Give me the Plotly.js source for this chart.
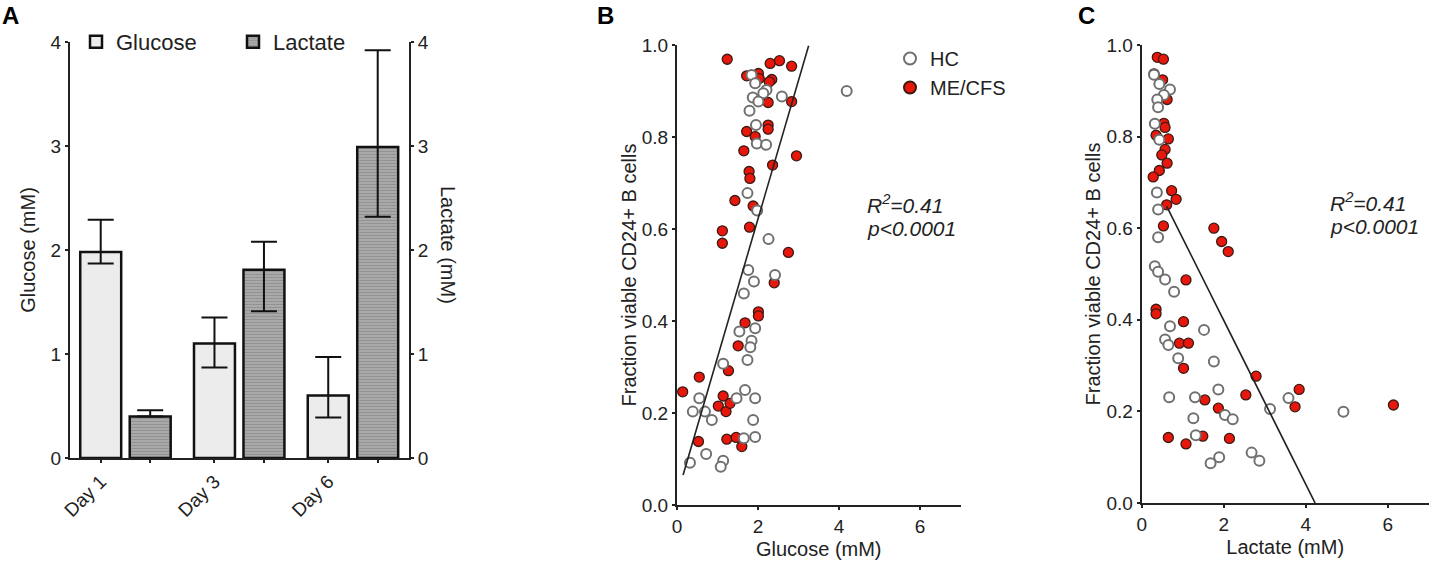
<!DOCTYPE html>
<html>
<head>
<meta charset="utf-8">
<script src="https://cdn.plot.ly/plotly-3.0.1.min.js"></script>
<style>
  html, body { margin: 0; padding: 0; background: #fff; }
  #fig { width: 1436px; height: 574px; }
</style>
</head>
<body>
<div id="fig"></div>
<script>
(function () {
  "use strict";

  // Panel A: supernatant glucose / lactate per day (mean, upper and lower error)
  var days = ["Day 1", "Day 3", "Day 6"];
  var glucoseMean = [1.98, 1.10, 0.60];
  var glucoseErrUp = [0.31, 0.25, 0.37];
  var glucoseErrDown = [0.11, 0.23, 0.21];
  var lactateMean = [0.40, 1.81, 2.99];
  var lactateErrUp = [0.06, 0.27, 0.93];
  var lactateErrDown = [0.0, 0.40, 0.67];

  // Panel B: glucose (mM) vs fraction viable CD24+ B cells
  var hcGluX = [1.84, 1.93, 2.21, 2.13, 1.87, 2.01, 1.79, 2.59, 4.19, 1.95, 1.97, 2.20, 1.74, 1.98, 2.26, 1.76, 2.42, 1.90, 1.65, 1.54, 1.93, 1.84, 1.81, 1.74, 1.14, 1.68, 1.47, 1.93, 0.55, 0.39, 0.69, 0.86, 1.88, 1.65, 1.93, 0.72, 0.32, 1.14, 1.08];
  var hcGluY = [0.935, 0.917, 0.902, 0.895, 0.886, 0.877, 0.857, 0.888, 0.900, 0.826, 0.786, 0.783, 0.678, 0.640, 0.578, 0.511, 0.500, 0.486, 0.460, 0.377, 0.384, 0.357, 0.343, 0.315, 0.307, 0.250, 0.232, 0.232, 0.232, 0.203, 0.203, 0.185, 0.185, 0.145, 0.148, 0.111, 0.092, 0.096, 0.083];
  var meGluX = [1.24, 2.30, 2.53, 2.83, 1.72, 2.01, 2.03, 2.34, 2.28, 2.83, 2.25, 2.25, 2.25, 1.72, 1.93, 1.65, 2.95, 2.36, 1.78, 1.80, 1.43, 1.88, 1.12, 1.12, 1.79, 2.75, 2.40, 2.01, 2.01, 1.68, 1.51, 1.27, 0.55, 0.14, 1.14, 1.02, 1.21, 1.31, 0.53, 1.23, 1.46, 1.60];
  var meGluY = [0.969, 0.960, 0.966, 0.954, 0.933, 0.938, 0.927, 0.925, 0.920, 0.877, 0.875, 0.826, 0.817, 0.812, 0.801, 0.770, 0.759, 0.739, 0.725, 0.710, 0.662, 0.650, 0.596, 0.569, 0.604, 0.549, 0.483, 0.420, 0.411, 0.396, 0.346, 0.292, 0.278, 0.246, 0.237, 0.215, 0.203, 0.221, 0.138, 0.143, 0.147, 0.127];

  // Panel C: lactate (mM) vs fraction viable CD24+ B cells
  var hcLacX = [0.30, 0.43, 0.69, 0.54, 0.38, 0.40, 0.32, 0.43, 0.37, 0.40, 0.40, 0.32, 0.40, 0.57, 0.79, 0.69, 1.52, 0.57, 0.65, 0.89, 1.76, 1.87, 0.67, 1.30, 3.58, 3.13, 4.92, 2.03, 2.22, 1.26, 1.32, 2.68, 2.87, 1.89, 1.68];
  var hcLacY = [0.935, 0.915, 0.903, 0.891, 0.881, 0.864, 0.828, 0.793, 0.678, 0.641, 0.580, 0.517, 0.505, 0.488, 0.461, 0.386, 0.378, 0.357, 0.345, 0.316, 0.309, 0.248, 0.231, 0.231, 0.229, 0.205, 0.199, 0.192, 0.183, 0.185, 0.148, 0.110, 0.092, 0.100, 0.087];
  var meLacX = [0.38, 0.53, 0.30, 0.51, 0.62, 0.54, 0.57, 0.35, 0.65, 0.57, 0.49, 0.62, 0.43, 0.28, 0.73, 0.84, 0.61, 0.53, 1.76, 1.95, 2.11, 1.08, 0.35, 0.35, 1.02, 0.92, 1.14, 1.02, 2.79, 3.84, 1.54, 2.54, 3.74, 6.14, 1.87, 1.49, 0.65, 1.08, 2.14];
  var meLacY = [0.973, 0.969, 0.937, 0.924, 0.881, 0.829, 0.820, 0.803, 0.795, 0.772, 0.760, 0.742, 0.726, 0.712, 0.682, 0.663, 0.651, 0.605, 0.600, 0.571, 0.549, 0.487, 0.423, 0.413, 0.396, 0.349, 0.349, 0.294, 0.277, 0.248, 0.225, 0.236, 0.210, 0.214, 0.207, 0.146, 0.143, 0.129, 0.141];

  // linear fits: [intercept, slope] and the x span they are drawn over
  var fitGlu = [0.02, 0.301];
  var fitGluSpan = [0.15, 3.25];
  var fitLac = [0.757, -0.179];
  var fitLacSpan = [0.61, 4.23];

  var W = 1436, H = 574;
  var ink = "#222";
  var red = "#e8170c";
  var font = "Liberation Sans, Arial, sans-serif";
  function px(v) { return v / W; }
  function py(v) { return 1 - v / H; }

  function fitLine(fit, span) {
    return { x: span, y: span.map(function (v) { return fit[0] + fit[1] * v; }) };
  }

  var gluPos = days.map(function (d, i) { return i; });
  var lacPos = days.map(function (d, i) { return i + 0.435; });

  var hcMarker = { size: 10, color: "#fff", line: { color: "#707070", width: 2 } };
  var meMarker = { size: 10, color: red, line: { color: "#3a1a14", width: 1.3 } };

  var lb = fitLine(fitGlu, fitGluSpan);
  var lc = fitLine(fitLac, fitLacSpan);

  var traces = [
    {
      type: "bar", name: "Glucose", x: gluPos, y: glucoseMean, width: 0.36,
      xaxis: "x", yaxis: "y", legend: "legend",
      marker: { color: "#ececec", line: { color: "#111", width: 2.5 } },
      error_y: { type: "data", symmetric: false, array: glucoseErrUp, arrayminus: glucoseErrDown, color: "#111", thickness: 2, width: 13 }
    },
    {
      type: "bar", name: "Lactate", x: lacPos, y: lactateMean, width: 0.36,
      xaxis: "x", yaxis: "y2", legend: "legend",
      marker: {
        color: "#a6a6a6", line: { color: "#111", width: 2.5 },
        pattern: { shape: "-", bgcolor: "#a9a9a9", fgcolor: "#939393", size: 3, solidity: 0.35 }
      },
      error_y: { type: "data", symmetric: false, array: lactateErrUp, arrayminus: lactateErrDown, color: "#111", thickness: 2, width: 13 }
    },
    { type: "scatter", mode: "markers", name: "ME/CFS", x: meGluX, y: meGluY, xaxis: "x2", yaxis: "y3", legend: "legend2", legendrank: 2, marker: meMarker },
    { type: "scatter", mode: "markers", name: "HC", x: hcGluX, y: hcGluY, xaxis: "x2", yaxis: "y3", legend: "legend2", legendrank: 1, marker: hcMarker },
    { type: "scatter", mode: "lines", x: lb.x, y: lb.y, xaxis: "x2", yaxis: "y3", showlegend: false, line: { color: ink, width: 1.6 } },
    { type: "scatter", mode: "markers", name: "ME/CFS", x: meLacX, y: meLacY, xaxis: "x3", yaxis: "y4", showlegend: false, marker: meMarker },
    { type: "scatter", mode: "markers", name: "HC", x: hcLacX, y: hcLacY, xaxis: "x3", yaxis: "y4", showlegend: false, marker: hcMarker },
    { type: "scatter", mode: "lines", x: lc.x, y: lc.y, xaxis: "x3", yaxis: "y4", showlegend: false, line: { color: ink, width: 1.6 } }
  ];

  var tickSize = 19, titleSize = 20;
  var axisBase = {
    showline: true, linecolor: ink, linewidth: 2, showgrid: false, zeroline: false,
    ticks: "outside", ticklen: 3, tickwidth: 2, tickcolor: ink,
    tickfont: { size: tickSize, color: ink }
  };
  function ax(extra) { return Object.assign({}, axisBase, extra); }

  function note(text, x, y, size, extra) {
    return Object.assign({
      text: text, xref: "paper", yref: "paper", x: px(x), y: py(y),
      xanchor: "left", yanchor: "middle", showarrow: false,
      font: { size: size, color: ink }
    }, extra || {});
  }

  var layout = {
    width: W, height: H,
    margin: { l: 0, r: 0, t: 0, b: 0 },
    paper_bgcolor: "#fff", plot_bgcolor: "rgba(0,0,0,0)",
    font: { family: font, color: ink, size: 18 },
    barmode: "overlay",
    showlegend: true,
    xaxis: ax({
      domain: [px(70), px(409)], range: [-0.27, 2.71], anchor: "y",
      tickmode: "array", tickvals: gluPos, ticktext: days, tickangle: -45,
      minor: { tickmode: "array", tickvals: lacPos, ticks: "outside", ticklen: 3, tickwidth: 2, tickcolor: ink }
    }),
    yaxis: ax({
      domain: [py(458), py(42)], range: [0, 4], anchor: "x", dtick: 1,
      title: { text: "Glucose (mM)", standoff: 10, font: { size: titleSize } }
    }),
    yaxis2: ax({
      domain: [py(458), py(42)], range: [0, 4], anchor: "x", dtick: 1,
      overlaying: "y", side: "right"
    }),
    xaxis2: ax({
      domain: [px(677), px(960.5)], range: [0, 7], anchor: "y3", dtick: 2,
      title: { text: "Glucose (mM)", standoff: 6, font: { size: titleSize } }
    }),
    yaxis3: ax({
      domain: [py(505), py(45)], range: [0, 1], anchor: "x2", dtick: 0.2, tickformat: ".1f",
      title: { text: "Fraction viable CD24+ B cells", standoff: 0, font: { size: titleSize } }
    }),
    xaxis3: ax({
      domain: [px(1141.7), px(1428.7)], range: [0, 7], anchor: "y4", dtick: 2,
      title: { text: "Lactate (mM)", standoff: 6, font: { size: titleSize } }
    }),
    yaxis4: ax({
      domain: [py(503), py(45)], range: [0, 1], anchor: "x3", dtick: 0.2, tickformat: ".1f",
      title: { text: "Fraction viable CD24+ B cells", standoff: 0, font: { size: titleSize } }
    }),
    legend: {
      orientation: "h", x: px(76), y: py(42), xanchor: "left", yanchor: "middle",
      entrywidth: 112, entrywidthmode: "pixels", bgcolor: "rgba(0,0,0,0)",
      font: { size: 22, color: ink }
    },
    legend2: {
      x: px(890), y: py(39), xanchor: "left", yanchor: "top",
      bgcolor: "rgba(0,0,0,0)", tracegroupgap: 0, itemsizing: "constant",
      font: { size: 20, color: ink }
    },
    annotations: [
      note("<b>A</b>", 0, 15, 24, { font: { size: 24, color: "#000" } }),
      note("<b>B</b>", 595, 15, 24, { font: { size: 24, color: "#000" } }),
      note("<b>C</b>", 1076, 15, 24, { font: { size: 24, color: "#000" } }),
      note("Lactate (mM)", 448, 245, titleSize, { xanchor: "center", textangle: 90 }),
      note("<i>R<sup>2</sup>=0.41</i>", 865, 204, 21),
      note("<i>p&lt;0.0001</i>", 865, 228, 21),
      note("<i>R<sup>2</sup>=0.41</i>", 1328, 202, 21),
      note("<i>p&lt;0.0001</i>", 1328, 227, 21)
    ]
  };

  Plotly.newPlot("fig", traces, layout, { displayModeBar: false, responsive: false, staticPlot: true });
})();
</script>
</body>
</html>
